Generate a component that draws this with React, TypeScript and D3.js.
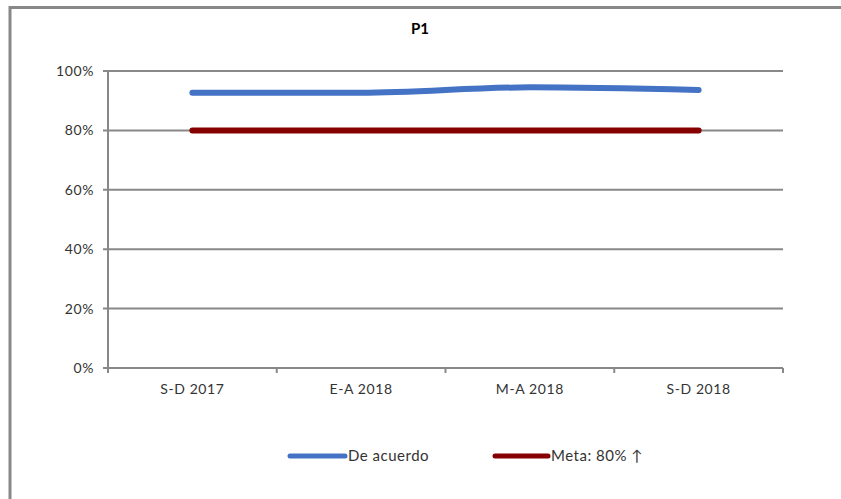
import React from "react";
import * as d3 from "d3";

// periods on the x axis
const categories = ["S-D 2017", "E-A 2018", "M-A 2018", "S-D 2018"];
// share "De acuerdo" per period
const deAcuerdo = [0.927, 0.927, 0.945, 0.936];
// goal line
const meta = [0.8, 0.8, 0.8, 0.8];
const yTicks = [0, 0.2, 0.4, 0.6, 0.8, 1];
const seriesNames = ["De acuerdo", "Meta: 80% ↑"];

const W = 841;
const H = 499;
const FONT = "'Lato', 'DejaVu Sans', sans-serif";

export default function App() {
  const left = 108;
  const right = 783;
  const top = 71;
  const bottom = 368;

  const x = d3.scaleBand().domain(categories).range([left, right]);
  const y = d3.scaleLinear().domain([0, 1]).range([bottom, top]);
  const cx = (c: string) => (x(c) as number) + x.bandwidth() / 2;

  const blueLine = d3
    .line<number>()
    .x((_, i) => cx(categories[i]))
    .y((d) => y(d))
    .curve(d3.curveMonotoneX);
  const redLine = d3
    .line<number>()
    .x((_, i) => cx(categories[i]))
    .y((d) => y(d));

  const grey = "#888888";
  const boundaries = categories.map((c) => x(c) as number).concat([right]);

  return (
    <svg
      width={W}
      height={H}
      style={{ position: "absolute", left: 0, top: 0, background: "#fff" }}
    >
      {/* chart frame */}
      <rect x={10} y={7.5} width={W + 20} height={H + 20} fill="#fff" stroke={grey} strokeWidth={3} />

      <text x={420} y={34} textAnchor="middle" fontFamily={FONT} fontWeight="bold" fontSize={15} fill="#000">
        P1
      </text>

      {/* grid + y ticks */}
      {yTicks.map((t) => (
        <g key={t}>
          <line x1={left - 5} x2={right} y1={y(t)} y2={y(t)} stroke={grey} strokeWidth={2} />
          <text x={94} y={y(t) + 5} textAnchor="end" fontFamily={FONT} fontSize={14} letterSpacing={0.6} fill="#333">
            {d3.format(".0%")(t)}
          </text>
        </g>
      ))}
      <line x1={left} x2={left} y1={top} y2={bottom} stroke={grey} strokeWidth={2} />

      {/* x ticks */}
      {boundaries.map((b, i) => (
        <line key={i} x1={b} x2={b} y1={bottom} y2={bottom + 5} stroke={grey} strokeWidth={2} />
      ))}
      {categories.map((c) => (
        <text key={c} x={cx(c)} y={bottom + 26} textAnchor="middle" fontFamily={FONT} fontSize={14} letterSpacing={0.6} fill="#333">
          {c}
        </text>
      ))}

      {/* series */}
      <path d={redLine(meta) || ""} fill="none" stroke="#860000" strokeWidth={6} strokeLinecap="round" />
      <path d={blueLine(deAcuerdo) || ""} fill="none" stroke="#4472C4" strokeWidth={6} strokeLinecap="round" />

      {/* legend */}
      <line x1={290} x2={345} y1={456} y2={456} stroke="#4472C4" strokeWidth={5} strokeLinecap="round" />
      <text x={348} y={461} fontFamily={FONT} fontSize={15} letterSpacing={0.5} fill="#333">
        {seriesNames[0]}
      </text>
      <line x1={495} x2={548} y1={456} y2={456} stroke="#860000" strokeWidth={5} strokeLinecap="round" />
      <text x={551} y={461} fontFamily={FONT} fontSize={15} letterSpacing={0.5} fill="#333">
        {seriesNames[1]}
      </text>
    </svg>
  );
}
